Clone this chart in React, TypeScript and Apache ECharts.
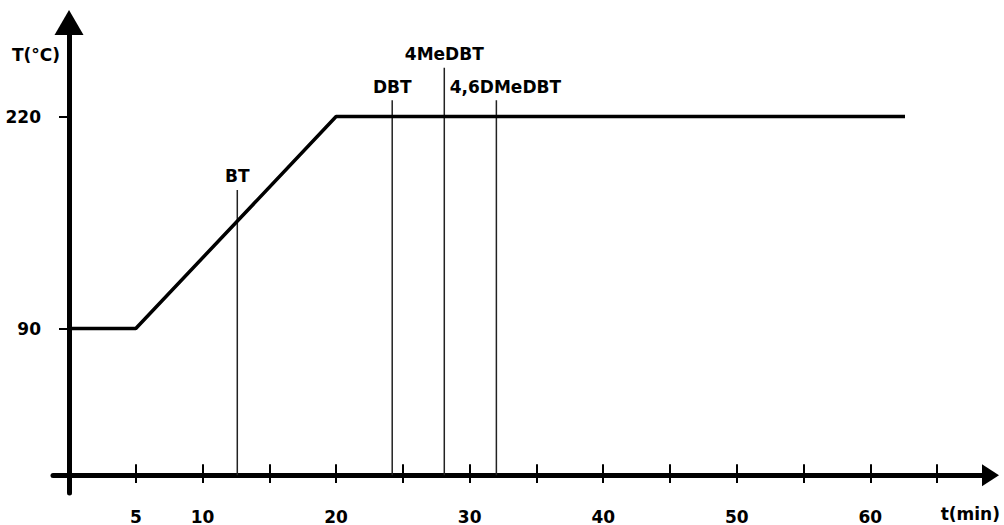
import React, { useEffect, useRef } from "react";
import * as echarts from "echarts";

// ---- data ----
const tempTime = [0, 5, 20, 62.6];
const tempValue = [90, 90, 220, 220];

const compounds = ["BT", "DBT", "4MeDBT", "4,6DMeDBT"];
const retentionTimes = [12.6, 24.2, 28.1, 32.0];
const markerTops = [175, 230, 250, 230];

const xTickValues = [5, 10, 15, 20, 25, 30, 35, 40, 45, 50, 55, 60, 65];
const xLabelValues = [5, 10, 20, 30, 40, 50, 60];
const yTickValues = [90, 220];

// ---- styles ----
const FONT = "'DejaVu Sans', sans-serif";
const labelOffsets: Record<string, number[]> = {
  BT: [0, 0],
  DBT: [0, 0],
  "4MeDBT": [0, 0],
  "4,6DMeDBT": [9, 0],
};

const X_MIN = -1.2;
const X_MAX = 69.0;
const Y_MIN = -10.9;
const Y_MAX = 277.7;

export default function App() {
  const ref = useRef<HTMLDivElement>(null);

  useEffect(() => {
    if (!ref.current) return;
    const chart = echarts.init(ref.current, undefined, { renderer: "svg" });

    const textBase = {
      fontFamily: FONT,
      fontWeight: "bold" as const,
      fontSize: 17,
      color: "#000",
    };

    const markerSeries = compounds.map((name, i) => ({
      type: "line",
      name,
      xAxisIndex: 0,
      yAxisIndex: 0,
      symbol: "circle",
      symbolSize: 0.1,
      showSymbol: true,
      itemStyle: { color: "rgba(0,0,0,0)" },
      lineStyle: { color: "#222", width: 1.5 },
      emphasis: { disabled: true },
      silent: true,
      z: 3,
      data: [
        [retentionTimes[i], 0],
        {
          value: [retentionTimes[i], markerTops[i]],
          label: {
            show: true,
            position: "top",
            distance: 5,
            offset: labelOffsets[name],
            formatter: name,
            ...textBase,
          },
        },
      ],
    }));

    chart.setOption({
      animation: false,
      backgroundColor: "#fff",
      grid: { left: 53, right: 13.5, top: 22.5, bottom: 25, containLabel: false },
      xAxis: [
        {
          type: "value",
          min: X_MIN,
          max: X_MAX,
          axisLine: {
            show: true,
            onZero: true,
            lineStyle: { color: "#000", width: 5 },
            symbol: ["none", "triangle"],
            symbolSize: [22, 17],
          },
          axisTick: {
            show: true,
            inside: true,
            length: 11,
            customValues: xTickValues,
            lineStyle: { color: "#000", width: 2 },
          },
          axisLabel: {
            show: true,
            customValues: xLabelValues,
            margin: 15,
            ...textBase,
          },
          splitLine: { show: false },
        },
        {
          type: "value",
          position: "bottom",
          offset: -18,
          min: X_MIN,
          max: X_MAX,
          axisLine: { show: false, onZero: false },
          axisTick: {
            show: true,
            inside: false,
            length: 8,
            customValues: xTickValues,
            lineStyle: { color: "#000", width: 2 },
          },
          axisLabel: { show: false },
          splitLine: { show: false },
        },
      ],
      yAxis: {
        type: "value",
        min: Y_MIN,
        max: Y_MAX,
        axisLine: {
          show: true,
          onZero: true,
          lineStyle: { color: "#000", width: 5 },
          symbol: ["none", "triangle"],
          symbolSize: [29, 25],
        },
        axisTick: {
          show: true,
          inside: false,
          length: 10,
          customValues: yTickValues,
          lineStyle: { color: "#000", width: 2 },
        },
        axisLabel: {
          show: true,
          customValues: yTickValues,
          margin: 12,
          ...textBase,
        },
        splitLine: { show: false },
      },
      graphic: [
        {
          type: "text",
          x: 60,
          y: 55,
          style: {
            text: "T(°C)",
            align: "right",
            verticalAlign: "middle",
            font: `bold 17px ${FONT}`,
            fill: "#000",
          },
        },
        {
          type: "text",
          x: 1000,
          y: 514,
          style: {
            text: "t(min)",
            align: "right",
            verticalAlign: "middle",
            font: `bold 17px ${FONT}`,
            fill: "#000",
          },
        },
      ],
      series: [
        {
          type: "line",
          name: "T",
          xAxisIndex: 0,
          yAxisIndex: 0,
          showSymbol: false,
          symbol: "none",
          lineStyle: { color: "#000", width: 3.5 },
          emphasis: { disabled: true },
          silent: true,
          z: 4,
          data: tempTime.map((t, i) => [t, tempValue[i]]),
        },
        ...markerSeries,
      ],
    });

    return () => chart.dispose();
  }, []);

  return (
    <div
      ref={ref}
      style={{
        position: "fixed",
        left: 0,
        top: 0,
        width: 1004,
        height: 525,
        background: "#fff",
      }}
    />
  );
}
